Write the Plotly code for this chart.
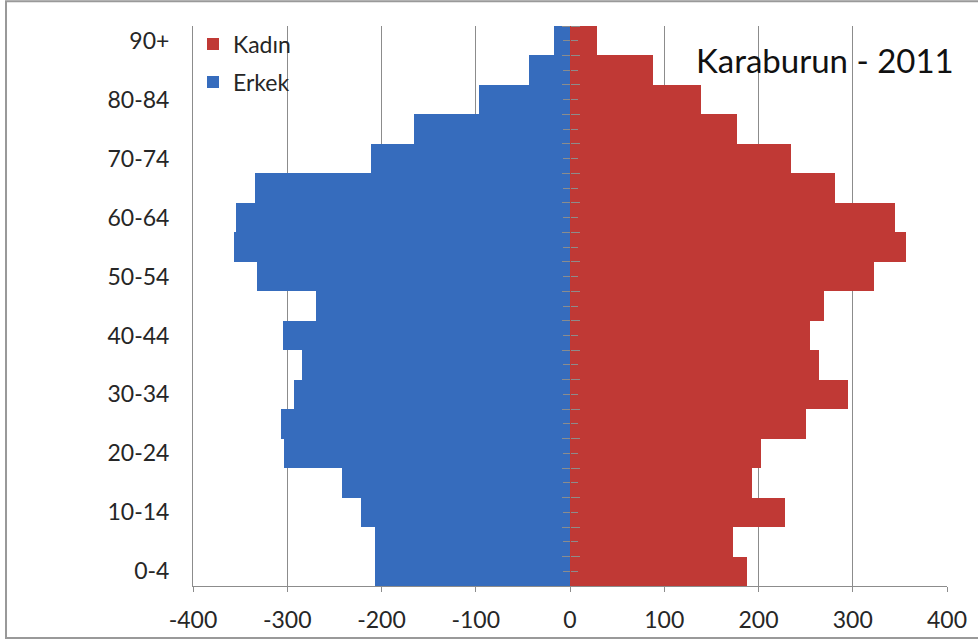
import plotly.graph_objects as go

age_groups = ["0-4", "5-9", "10-14", "15-19", "20-24", "25-29", "30-34", "35-39",
              "40-44", "45-49", "50-54", "55-59", "60-64", "65-69", "70-74",
              "75-79", "80-84", "85-89", "90+"]
kadin = [188, 173, 228, 193, 203, 250, 295, 264, 255, 270, 323, 356, 345, 281,
         235, 177, 139, 88, 29]
erkek = [-207, -207, -222, -242, -303, -307, -293, -284, -304, -269, -332, -357,
         -354, -334, -211, -166, -97, -43, -17]
tick_labels = age_groups[::2]
x_ticks = [-400, -300, -200, -100, 0, 100, 200, 300, 400]

FONT = "Lato"
GRID = "#8c8c8c"
TEXT = "#262626"

fig = go.Figure()
fig.add_trace(go.Bar(y=age_groups, x=kadin, orientation="h", name="Kadın",
                     marker=dict(color="#c03935", line=dict(width=0)),
                     legendgroup="k"))
fig.add_trace(go.Bar(y=age_groups, x=erkek, orientation="h", name="Erkek",
                     marker=dict(color="#366cbd", line=dict(width=0)),
                     legendgroup="e"))

# tick-mark axes at x=0
for ax in ["y2", "y3", "y4", "y5"]:
    fig.add_trace(go.Scatter(x=[], y=[], yaxis=ax, showlegend=False, hoverinfo="skip"))

fig.update_layout(
    width=978, height=644,
    margin=dict(l=193, r=31, t=26, b=58, autoexpand=False),
    paper_bgcolor="white", plot_bgcolor="white",
    barmode="relative", bargap=0,
    font=dict(family=FONT, color=TEXT, size=23),
    showlegend=True,
    legend=dict(x=0.0, y=1.006, xanchor="left", yanchor="top",
                font=dict(family=FONT, size=23, color=TEXT),
                traceorder="grouped", tracegroupgap=5,
                bgcolor="rgba(0,0,0,0)", itemwidth=30),
    xaxis=dict(range=[-400, 400], tickvals=x_ticks, ticktext=[str(v) for v in x_ticks],
               showgrid=True, gridcolor=GRID, gridwidth=1,
               zeroline=True, zerolinecolor=GRID, zerolinewidth=1,
               showline=True, linecolor=GRID, linewidth=1,
               ticks="outside", ticklen=5, tickcolor=GRID,
               tickfont=dict(family=FONT, size=23, color=TEXT),
               ticklabelstandoff=8, fixedrange=True, automargin=False),
    yaxis=dict(type="category", categoryorder="array", categoryarray=age_groups,
               tickmode="array", tickvals=tick_labels, ticktext=tick_labels,
               showgrid=False, showline=True, linecolor=GRID, linewidth=1,
               ticks="", tickfont=dict(family=FONT, size=23, color=TEXT),
               ticklabelstandoff=18, range=[-0.5, 18.5], automargin=False),
    yaxis2=dict(overlaying="y", anchor="free", position=0.5, side="left",
                range=[-0.5, 18.5], tickmode="linear", tick0=-0.5, dtick=1,
                ticks="outside", ticklen=8, tickcolor=GRID, showticklabels=False,
                showgrid=False, zeroline=False, showline=False, automargin=False),
    yaxis3=dict(overlaying="y", anchor="free", position=0.5, side="right",
                range=[-0.5, 18.5], tickmode="linear", tick0=-0.5, dtick=1,
                ticks="outside", ticklen=9, tickcolor=GRID, showticklabels=False,
                showgrid=False, zeroline=False, showline=False, automargin=False),
    yaxis4=dict(overlaying="y", anchor="free", position=0.5, side="left",
                range=[-0.5, 18.5], tickmode="linear", tick0=0, dtick=1,
                ticks="outside", ticklen=7, tickcolor=GRID, showticklabels=False,
                showgrid=False, zeroline=False, showline=False, automargin=False),
    yaxis5=dict(overlaying="y", anchor="free", position=0.5, side="right",
                range=[-0.5, 18.5], tickmode="linear", tick0=0, dtick=1,
                ticks="outside", ticklen=7, tickcolor=GRID, showticklabels=False,
                showgrid=False, zeroline=False, showline=False, automargin=False),
)

fig.add_annotation(text="Karaburun - 2011", xref="paper", yref="paper",
                   x=1.012, y=0.94, xanchor="right", yanchor="middle",
                   showarrow=False, font=dict(family=FONT, size=33, color="#111111"))

# outer chart frame
fig.add_shape(type="rect", xref="paper", yref="paper",
              x0=-0.248, x1=1.06, y0=-0.093, y1=1.044,
              line=dict(color="#999999", width=2), fillcolor="rgba(0,0,0,0)",
              layer="below")

fig.write_html("out.html", config={"displayModeBar": False},
               post_script="document.body.style.margin='0';document.body.style.overflow='hidden';")
